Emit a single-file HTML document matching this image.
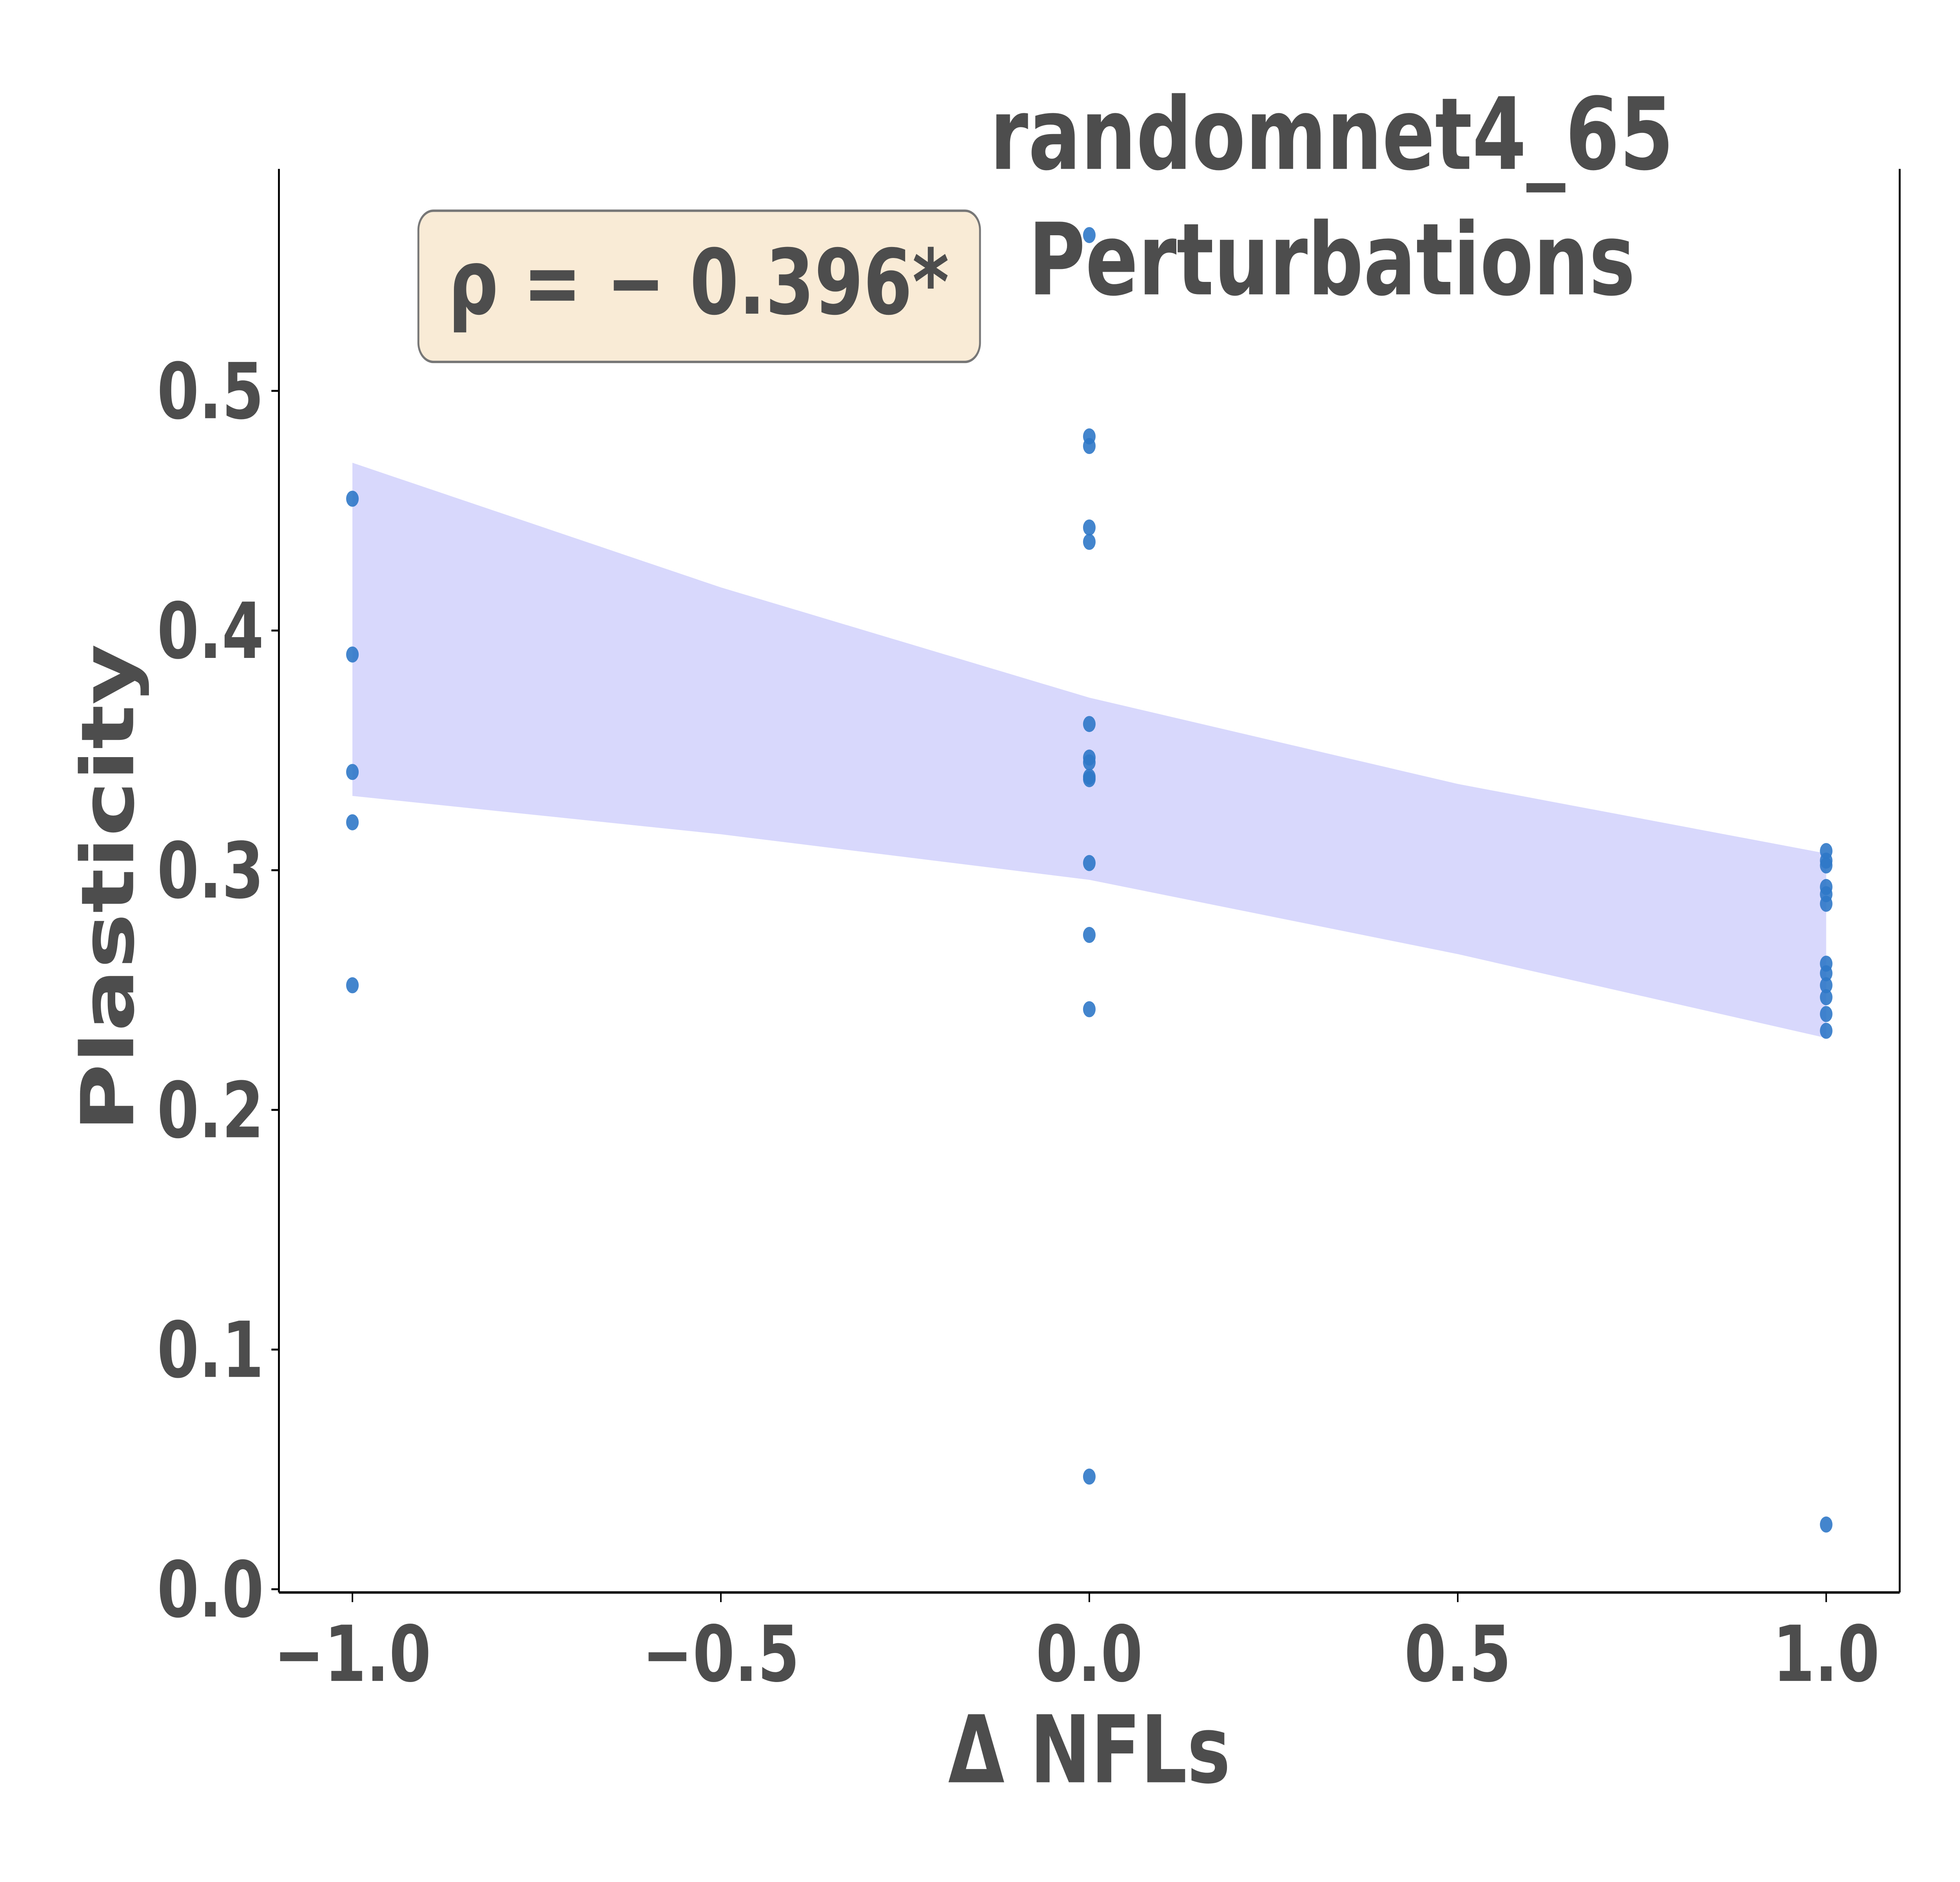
<!DOCTYPE html>
<html><head><meta charset="utf-8"><style>
html,body{margin:0;padding:0;background:#fff;width:100%;height:100%;overflow:hidden;}
svg{display:block;width:100vw;height:100vh;position:absolute;left:0;top:0;}
text{font-family:"DejaVu Sans","Liberation Sans",sans-serif;font-weight:bold;fill:#4d4d4d;}
</style></head><body>
<svg id="chart" viewBox="0 0 1560 1170" preserveAspectRatio="none" xmlns="http://www.w3.org/2000/svg">
<g id="band"></g>
<g id="points"></g>
<g id="axes"></g>
<text x="1060" y="105" font-size="62" text-anchor="middle">randomnet4_65</text>
<text x="1060" y="183" font-size="62" text-anchor="middle">Perturbations</text>
<rect x="333" y="131" width="447" height="94" rx="12" fill="#f9ebd6" stroke="#777" stroke-width="1.5"/>
<text x="556" y="195" font-size="56" text-anchor="middle">ρ = − 0.396*</text>
<text x="867" y="1108" font-size="58" text-anchor="middle">Δ NFLs</text>
<text transform="translate(106,552) rotate(-90)" font-size="58" text-anchor="middle">Plasticity</text>
</svg>
<script>
const xs = [-1,-1,-1,-1,-1, 0,0,0,0,0,0,0,0,0,0,0,0,0,0, 1,1,1,1,1,1,1,1,1,1,1,1,1];
const ys = [0.455,0.39,0.341,0.32,0.252,
 0.565,0.481,0.477,0.443,0.437,0.361,0.347,0.345,0.339,0.338,0.303,0.273,0.242,0.047,
 0.308,0.304,0.302,0.293,0.290,0.286,0.261,0.257,0.252,0.247,0.240,0.233,0.027];
const bandX = [-1,-0.5,0,0.5,1];
const bandUpper = [0.470,0.418,0.372,0.336,0.307];
const bandLower = [0.331,0.315,0.296,0.265,0.230];
const xTicks = [-1,-0.5,0,0.5,1];
const xTickLabels = ["−1.0","−0.5","0.0","0.5","1.0"];
const yTicks = [0,0.1,0.2,0.3,0.4,0.5];
const yTickLabels = ["0.0","0.1","0.2","0.3","0.4","0.5"];

const NS="http://www.w3.org/2000/svg";
const sx = v => 867 + v*586.5;
const sy = v => 988 - v*1490;
function mk(tag, attrs, parent){const e=document.createElementNS(NS,tag);for(const k in attrs)e.setAttribute(k,attrs[k]);parent.appendChild(e);return e;}

const band=document.getElementById('band');
let d="";
bandX.forEach((x,i)=>{d+=(i?"L":"M")+sx(x)+","+sy(bandUpper[i]);});
for(let i=bandX.length-1;i>=0;i--) d+="L"+sx(bandX[i])+","+sy(bandLower[i]);
const bp=mk('path',{d:d+"Z",fill:"#d8d8fc",stroke:"none"},band);



const pts=document.getElementById('points');
xs.forEach((x,i)=>{
  const c=mk('circle',{cx:sx(x),cy:sy(ys[i]),r:5,fill:"#2f78c8","fill-opacity":0.9},pts);
  
  
});

const ax=document.getElementById('axes');
const l1=mk('line',{x1:222,y1:105,x2:222,y2:990,stroke:"#000","stroke-width":1.5},ax);


const l2=mk('line',{x1:222,y1:990,x2:1512,y2:990,stroke:"#000","stroke-width":1.5},ax);


const l3=mk('line',{x1:1512,y1:105,x2:1512,y2:990,stroke:"#000","stroke-width":1.5},ax);


xTicks.forEach((v,i)=>{
  const t=mk('line',{x1:sx(v),y1:990,x2:sx(v),y2:996,stroke:"#000","stroke-width":1.2},ax);
  
  
  const tx=mk('text',{x:sx(v),y:1045,"font-size":48,"text-anchor":"middle"},ax);
  tx.textContent=xTickLabels[i];
  
  
});
yTicks.forEach((v,i)=>{
  const t=mk('line',{x1:216,y1:sy(v),x2:222,y2:sy(v),stroke:"#000","stroke-width":1.2},ax);
  
  
  const tx=mk('text',{x:210,y:sy(v)+17,"font-size":48,"text-anchor":"end"},ax);
  tx.textContent=yTickLabels[i];
  
  
});
</script>
</body></html>
